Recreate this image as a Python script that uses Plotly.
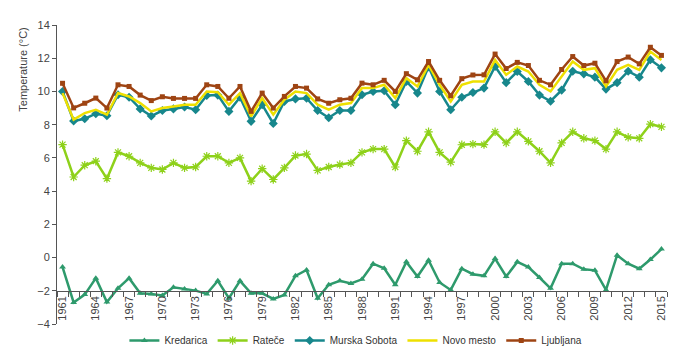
import plotly.graph_objects as go

years = list(range(1961, 2016))

kredarica = [-0.57, -2.7, -2.23, -1.24, -2.68, -1.85, -1.24, -2.15, -2.19, -2.28,
             -1.79, -1.89, -1.99, -2.19, -1.40, -2.45, -1.40, -2.15, -2.15, -2.49,
             -2.25, -1.10, -0.75, -2.45, -1.64, -1.40, -1.56, -1.31, -0.37, -0.65,
             -1.64, -0.26, -1.14, -0.16, -1.50, -1.95, -0.67, -1.00, -1.10, -0.06,
             -1.14, -0.26, -0.57, -1.20, -1.85, -0.37, -0.37, -0.71, -0.77, -1.95,
             0.14, -0.37, -0.67, -0.12, 0.51]

ratece = [6.8, 4.85, 5.56, 5.8, 4.75, 6.33, 6.1, 5.7, 5.4, 5.3,
          5.7, 5.4, 5.45, 6.1, 6.1, 5.7, 6.0, 4.6, 5.35, 4.7,
          5.4, 6.14, 6.23, 5.25, 5.45, 5.6, 5.7, 6.33, 6.53, 6.53,
          5.45, 7.04, 6.4, 7.57, 6.33, 5.74, 6.79, 6.83, 6.8, 7.57,
          6.9, 7.57, 7.0, 6.4, 5.7, 6.9, 7.57, 7.18, 7.04, 6.53,
          7.57, 7.24, 7.18, 8.03, 7.87]

murska_sobota = [10.0, 8.22, 8.36, 8.66, 8.54, 9.8, 9.65, 8.95, 8.52, 8.85,
                 8.95, 9.06, 8.9, 9.76, 9.78, 8.8, 9.65, 8.2, 9.2, 8.07,
                 9.4, 9.55, 9.59, 8.85, 8.42, 8.85, 8.85, 9.8, 10.0, 10.04,
                 9.2, 10.6, 9.9, 11.48, 10.0, 8.9, 9.65, 9.94, 10.2, 11.5,
                 10.53, 11.2, 10.6, 9.78, 9.41, 10.08, 11.22, 11.06, 10.86, 10.14,
                 10.53, 11.22, 10.86, 11.91, 11.42]

novo_mesto = [9.9, 8.3, 8.7, 8.9, 8.6, 9.9, 9.7, 9.3, 8.8, 9.0,
              9.1, 9.2, 9.2, 10.0, 9.95, 9.2, 9.9, 8.5, 9.6, 8.6,
              9.5, 10.0, 9.9, 9.2, 8.9, 9.2, 9.3, 10.2, 10.2, 10.4,
              9.6, 10.8, 10.3, 11.6, 10.4, 9.4, 10.4, 10.6, 10.6, 11.9,
              11.0, 11.5, 11.2, 10.4, 10.0, 10.9, 11.8, 11.3, 11.4, 10.3,
              11.3, 11.6, 11.3, 12.4, 11.9]

ljubljana = [10.49, 9.01, 9.29, 9.6, 9.0, 10.4, 10.3, 9.78, 9.45, 9.68,
             9.58, 9.58, 9.58, 10.4, 10.3, 9.59, 10.3, 8.8, 9.9, 9.0,
             9.7, 10.3, 10.2, 9.55, 9.29, 9.5, 9.59, 10.5, 10.4, 10.67,
             10.0, 11.07, 10.7, 11.8, 10.67, 9.74, 10.77, 10.99, 11.0, 12.25,
             11.38, 11.75, 11.56, 10.67, 10.4, 11.32, 12.1, 11.56, 11.7, 10.64,
             11.8, 12.07, 11.66, 12.66, 12.17]

tick_years = list(range(1961, 2016, 3))
tick_labels = [str(y) for y in tick_years]
y_ticks = [-4, -2, 0, 2, 4, 6, 8, 10, 12, 14]

FONT = "Arial, Liberation Sans, sans-serif"

series = [
    ("Kredarica", kredarica, "#2E9A6C", dict(symbol="triangle-up", size=6)),
    ("Rateče", ratece, "#8ED11A", dict(symbol="asterisk-open", size=7, line=dict(width=1.2, color="#8ED11A"))),
    ("Murska Sobota", murska_sobota, "#17878C", dict(symbol="diamond", size=7)),
    ("Novo mesto", novo_mesto, "#EEE000", None),
    ("Ljubljana", ljubljana, "#9E4413", dict(symbol="square", size=5)),
]

fig = go.Figure()
for name, vals, color, marker in series:
    if marker is None:
        fig.add_trace(go.Scatter(x=years, y=vals, name=name, mode="lines",
                                 line=dict(color=color, width=2.5)))
    else:
        m = dict(color=color)
        m.update(marker)
        fig.add_trace(go.Scatter(x=years, y=vals, name=name, mode="lines+markers",
                                 line=dict(color=color, width=2.5), marker=m))

fig.update_layout(
    width=690, height=359,
    margin=dict(l=49, r=31, t=17, b=38),
    paper_bgcolor="white", plot_bgcolor="white",
    font=dict(family=FONT, size=11, color="#444"),
    showlegend=True,
    legend=dict(orientation="h", x=0.49, xanchor="center", y=-0.055, yanchor="middle",
                font=dict(size=10, color="#333"), itemwidth=30, tracegroupgap=0),
    xaxis=dict(
        range=[1960.5, 2015.5], anchor="free", position=2/18,
        tickvals=tick_years, ticktext=tick_labels, tickangle=-90,
        ticks="", showgrid=False, zeroline=False,
        showline=True, linecolor="#555", linewidth=1,
        tickfont=dict(size=11, color="#444"),
        minor=dict(tick0=1960.5, dtick=1, ticks="outside", ticklen=5,
                   tickcolor="#555", showgrid=False),
    ),
    yaxis=dict(
        range=[-4, 14], tickvals=y_ticks, showgrid=False, zeroline=False,
        showline=True, linecolor="#555", linewidth=1,
        ticks="outside", ticklen=4, tickcolor="#555",
        tickfont=dict(size=11, color="#444"),
    ),
    annotations=[dict(text="Temperature (°C)", textangle=-90, xref="paper", yref="paper",
                      x=-0.056, y=0.85, xanchor="center", yanchor="middle",
                      showarrow=False, font=dict(size=11, color="#444"))],
)

fig.write_html("out.html")
